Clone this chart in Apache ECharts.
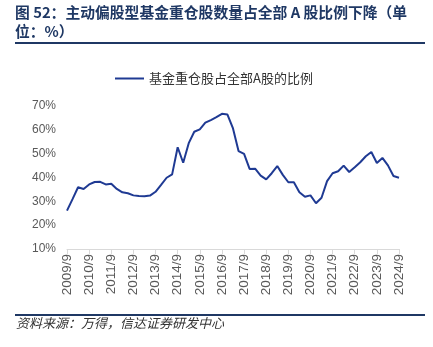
<!DOCTYPE html>
<html><head><meta charset="utf-8">
<script src="https://cdn.jsdelivr.net/npm/echarts@6/dist/echarts.min.js"></script>
<style>html,body{margin:0;padding:0;background:#fff}#c{width:433px;height:347px}</style>
</head><body><div id="c"></div>
<script>
const years = ['2009','2010','2011','2012','2013','2014','2015','2016','2017','2018','2019','2020','2021','2022','2023','2024'];
const quarterMonths = ['9','12','3','6'];
const seriesName = '基金重仓股占全部A股的比例';
const values = [26.1,30.9,35.9,35.2,37.1,38.1,38.2,37.1,37.4,35.2,33.8,33.4,32.5,32.2,32.1,32.4,34.0,36.9,39.9,41.3,52.7,46.2,54.4,59.2,60.2,63.0,64.1,65.3,66.7,66.4,60.6,51.1,49.9,43.6,43.7,40.8,39.2,41.8,44.8,41.1,38.0,38.0,33.8,31.9,32.5,29.2,31.5,38.5,41.8,42.6,45.0,42.3,44.3,46.4,48.9,50.7,46.1,48.2,45.1,40.6,39.9];
const yTicks = [10,20,30,40,50,60,70];

// build quarterly category labels starting 2009/9
const categories = [];
{
  let y = 2009, qi = 0;
  for (let i = 0; i < values.length; i++) {
    const m = quarterMonths[qi];
    categories.push(y + '/' + m);
    qi++;
    if (qi === 2) y++;
    if (qi === 4) qi = 0;
  }
}

const chart = echarts.init(document.getElementById('c'), null, {renderer:'canvas'});
const navy = '#1f3864';
chart.setOption({
  animation: false,
  backgroundColor: '#fff',
  grid: {left: 67, right: 34, top: 106, bottom: 98, containLabel: false},
  legend: {
    top: 67, left: 110,
    itemWidth: 29, itemHeight: 2, itemGap: 10,
    icon: 'rect',
    textStyle: {fontSize: 13, color: '#333', fontFamily: 'Noto Sans CJK SC'},
    data: [seriesName]
  },
  xAxis: {
    type: 'category', data: categories, boundaryGap: false,
    axisLine: {lineStyle: {color: '#d9d9d9'}},
    axisTick: {interval: 3, length: 5, lineStyle: {color: '#d9d9d9'}},
    axisLabel: {interval: 3, rotate: 90, color: '#595959', fontSize: 13.5, fontFamily: 'Liberation Sans', margin: 5}
  },
  yAxis: {
    type: 'value', min: yTicks[0], max: yTicks[yTicks.length-1], interval: 10,
    splitLine: {show: false},
    axisLine: {show: false}, axisTick: {show: false},
    axisLabel: {formatter: '{value}%', color: '#595959', fontSize: 12, fontFamily: 'Liberation Sans', margin: 11}
  },
  series: [{
    name: seriesName, type: 'line', data: values, showSymbol: false,
    lineStyle: {color: '#1f3a93', width: 2}, itemStyle: {color: '#1f3a93'}
  }],
  graphic: [
    {type: 'text', left: 15, top: 5, style: {text: '图 52：主动偏股型基金重仓股数量占全部 A 股比例下降（单', font: 'bold 14.8px "Noto Sans CJK SC"', fill: navy}},
    {type: 'text', left: 15, top: 24, style: {text: '位：%）', font: 'bold 14.8px "Noto Sans CJK SC"', fill: navy}},
    {type: 'rect', shape: {x: 15, y: 42, width: 410, height: 2}, style: {fill: navy}},
    {type: 'rect', shape: {x: 15, y: 314, width: 410, height: 2}, style: {fill: navy}},
    {type: 'text', left: 16, top: 317, style: {text: '资料来源：万得，信达证券研发中心', font: 'italic 13px "Noto Sans CJK SC"', fill: '#333'}}
  ]
});
</script></body></html>
